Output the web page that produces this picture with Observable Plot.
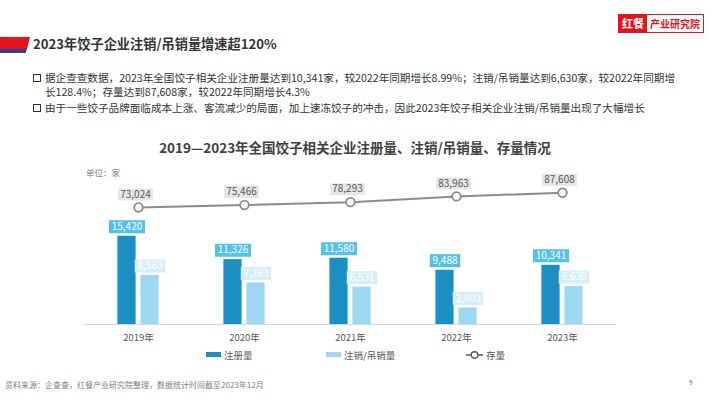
<!DOCTYPE html>
<html><head><meta charset="utf-8">
<script src="https://cdn.jsdelivr.net/npm/d3@7"></script>
<script src="https://cdn.jsdelivr.net/npm/@observablehq/plot@0.6"></script>
<style>
body{margin:0;background:#fff;font-family:"Noto Sans CJK SC","Noto Sans",sans-serif;}
#page{position:relative;width:710px;height:399px;overflow:hidden;background:#fff;}
.abs{position:absolute;white-space:nowrap;}
.bul{position:absolute;width:6px;height:6px;border:1.4px solid #333;box-sizing:content-box;}
.txt{font-size:10.6px;color:#333;line-height:13px;height:13px;}
</style></head><body>
<div id="page">
  <div id="chart" class="abs" style="left:0;top:0"></div>
  <svg class="abs" style="left:0;top:36px" width="34" height="20">
    <polygon points="0,1 30,1 27,13 0,13" fill="#e5141c"/>
    <polygon points="0,13 27,13 25.5,17 0,17" fill="#2e3f96"/>
  </svg>
  <div class="abs" style="left:33px;top:34px;font-size:13.2px;font-weight:bold;color:#333;line-height:20px">2023年饺子企业注销/吊销量增速超120%</div>
  <div class="abs" style="left:618px;top:14px;height:17px;border:1px solid #e5141c;display:flex;background:#fff">
    <div style="background:#e5141c;color:#fff;font-size:11px;font-weight:bold;padding:0 3px;line-height:17px">红餐</div>
    <div style="color:#e5141c;font-size:10px;font-weight:bold;padding:0 3px;line-height:17px">产业研究院</div>
  </div>
  <div class="bul" style="left:33px;top:74px"></div>
  <div class="abs txt" style="left:45px;top:71px">据企查查数据，2023年全国饺子相关企业注册量达到10,341家，较2022年同期增长8.99%；注销/吊销量达到6,630家，较2022年同期增</div>
  <div class="abs txt" style="left:45px;top:84.5px">长128.4%；存量达到87,608家，较2022年同期增长4.3%</div>
  <div class="bul" style="left:33px;top:104px"></div>
  <div class="abs txt" style="left:45px;top:101px">由于一些饺子品牌面临成本上涨、客流减少的局面，加上速冻饺子的冲击，因此2023年饺子相关企业注销/吊销量出现了大幅增长</div>
  <div class="abs" style="left:0;width:710px;top:137px;text-align:center;font-size:13.5px;font-weight:bold;color:#404040">2019—2023年全国饺子相关企业注册量、注销/吊销量、存量情况</div>
  <div class="abs" style="left:86px;top:166px;font-size:8.5px;color:#7f7f7f">单位：家</div>
  <div id="legend"></div>
  <div class="abs" style="left:5px;top:379px;font-size:8px;color:#7f7f7f">资料来源：企查查，红餐产业研究院整理，数据统计时间截至2023年12月</div>
  <div class="abs" style="left:689px;top:378px;font-size:6px;color:#595959">9</div>
</div>
<script>
const years = ["2019年", "2020年", "2021年", "2022年", "2023年"];
const registered = [15420, 11326, 11580, 9488, 10341];
const cancelled = [8563, 7263, 6531, 2903, 6630];
const stock = [73024, 75466, 78293, 83963, 87608];
const seriesNames = ["注册量", "注销/吊销量", "存量"];
const colors = ["#1b8fc3", "#9dd8f2", "#8c8c8c"];

const data = years.map((y, i) => ({year: y, reg: registered[i], can: cancelled[i], stock: stock[i]}));
const fmt = d3.format(",");
// secondary axis for stock, mapped into the primary axis units
const stockAxis = d3.scaleLinear().domain([-43000, 184000]).range([0, 40000]);
const stockY = d => stockAxis(d.stock);

const boxSym = (w, h) => ({draw(ctx) {
  ctx.moveTo(-w / 2, -h / 2); ctx.lineTo(w / 2, -h / 2);
  ctx.lineTo(w / 2, h / 2); ctx.lineTo(-w / 2, h / 2); ctx.closePath();
}});

// label box + text for a series: yGet gives position, valGet gives the shown value
function labelMarks(yGet, valGet, dx, dy, boxFill, textFill, h, cw) {
  const out = [];
  for (const len of [5, 6]) {
    out.push(Plot.dot(data.filter(d => fmt(valGet(d)).length === len), {
      x: "year", y: yGet, dx, dy, r: 5, symbol: boxSym(len * cw + 3, h), fill: boxFill, stroke: null
    }));
  }
  out.push(Plot.text(data, {x: "year", y: yGet, dx, dy, text: d => fmt(valGet(d)), fill: textFill, fontSize: 10}));
  return out;
}
const regVal = d => d.reg, canVal = d => d.can, stockVal = d => d.stock;

const font = '"Noto Sans CJK SC","Noto Sans",sans-serif';
const chart = Plot.plot({
  width: 710, height: 399,
  marginLeft: 84, marginRight: 94, marginTop: 95, marginBottom: 75,
  x: {type: "band", domain: years, padding: 0, axis: null},
  y: {domain: [0, 40000], axis: null},
  style: {fontFamily: font, background: "transparent", overflow: "visible"},
  marks: [
    Plot.ruleY([0], {stroke: "#d9d9d9", strokeWidth: 1}),
    Plot.barY(data, {x: "year", y: "reg", fill: colors[0], dx: -11.5, insetLeft: 43.9, insetRight: 43.9}),
    Plot.barY(data, {x: "year", y: "can", fill: colors[1], dx: 11.5, insetLeft: 43.9, insetRight: 43.9}),
    ...labelMarks(regVal, regVal, -11.5, -9.5, "#52c1ec", "#fff", 13, 5.5),
    ...labelMarks(canVal, canVal, 11.5, -9.5, "#d5eefa", "#fff", 13, 5.5),
    Plot.line(data, {x: "year", y: stockY, stroke: colors[2], strokeWidth: 2}),
    Plot.dot(data, {x: "year", y: stockY, r: 4.3, fill: "#fff", stroke: "#8a8a8a", strokeWidth: 1.8}),
    ...labelMarks(stockY, stockVal, -3, -13, "#e6e6e6", "#595959", 12, 5.3),
    Plot.text(years, {x: d => d, y: 0, dy: 13, text: d => d, fill: "#595959", fontSize: 9.5})
  ]
});
document.getElementById("chart").appendChild(chart);

// legend
const legend = document.getElementById("legend");
legend.innerHTML = `
  <div class="abs" style="left:206px;top:352px;width:15px;height:5px;background:${colors[0]}"></div>
  <div class="abs" style="left:224px;top:348px;font-size:9.5px;color:#595959">${seriesNames[0]}</div>
  <div class="abs" style="left:326px;top:352px;width:15px;height:5px;background:${colors[1]}"></div>
  <div class="abs" style="left:344px;top:348px;font-size:9.5px;color:#595959">${seriesNames[1]}</div>
  <svg class="abs" style="left:466px;top:349px" width="18" height="12"><line x1="0" y1="6" x2="17" y2="6" stroke="#595959" stroke-width="1.5"/><circle cx="8.5" cy="6" r="3.3" fill="#fff" stroke="#595959" stroke-width="1.4"/></svg>
  <div class="abs" style="left:486px;top:348px;font-size:9.5px;color:#595959">${seriesNames[2]}</div>`;
</script>
</body></html>
